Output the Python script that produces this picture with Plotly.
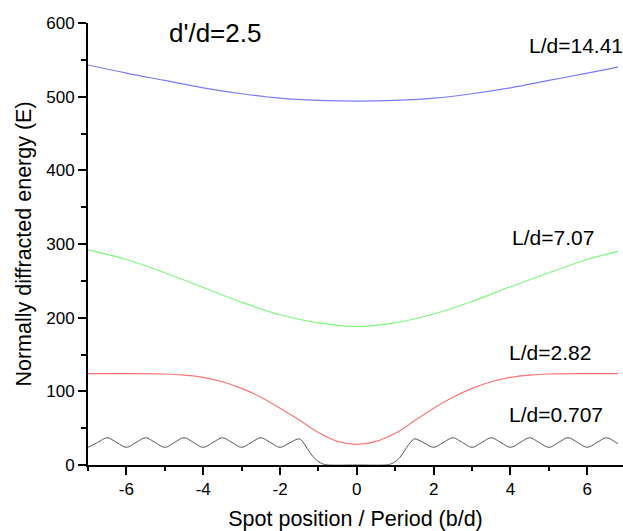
import plotly.graph_objects as go

# ---- data ----
x_smooth = [-7, -6, -5, -4, -3, -2, -1, 0, 1, 2, 3, 4, 5, 6, 6.8]
e_1441 = [543, 532, 522, 512, 504, 498, 495, 494, 495, 498, 504, 512, 522, 532, 540]
e_707 = [292, 279, 261, 241, 221, 204, 193, 188, 193, 205, 222, 242, 261, 279, 290]

x_282 = [-7, -6, -5, -4.5, -4, -3.5, -3, -2.5, -2, -1.5, -1, -0.5, 0,
         0.5, 1, 1.5, 2, 2.5, 3, 3.5, 4, 4.5, 5, 6, 6.8]
e_282 = [124, 124, 123.5, 122, 119, 113, 104, 92, 77, 61, 44, 32, 28,
         32, 43, 60, 77, 92, 104, 113, 119, 122, 123.5, 124, 124]

x_0707 = [-7, -6.75, -6.5, -6.25, -6, -5.75, -5.5, -5.25, -5, -4.75, -4.5, -4.25,
          -4, -3.75, -3.5, -3.25, -3, -2.75, -2.5, -2.25, -2, -1.75, -1.5, -1.4,
          -1.3, -1.2, -1.1, -1.0, -0.9, -0.8, 0, 0.8, 0.9, 1.0, 1.1, 1.2, 1.3,
          1.4, 1.5, 1.75, 2, 2.25, 2.5, 2.75, 3, 3.25, 3.5, 3.75, 4, 4.25, 4.5,
          4.75, 5, 5.25, 5.5, 5.75, 6, 6.25, 6.5, 6.75, 6.8]
e_0707 = [24, 30.5, 37, 30.5, 24, 30.5, 37, 30.5, 24, 30.5, 37, 30.5,
          24, 30.5, 37, 30.5, 24, 30.5, 37, 30.5, 24, 30, 35.5, 31,
          23, 15.5, 9, 4.5, 1.8, 0.3, 0, 0.3, 1.8, 4.5, 9, 16, 24,
          31, 35.5, 30, 24, 30.5, 37, 30.5, 24, 30.5, 37, 30.5, 24, 30.5, 37,
          30.5, 24, 30.5, 37, 30.5, 24, 30.5, 37, 30.5, 29]

x_tickvals = [-6, -4, -2, 0, 2, 4, 6]
x_ticktext = ["-6", "-4", "-2", "0", "2", "4", "6"]
y_tickvals = [0, 100, 200, 300, 400, 500, 600]
y_ticktext = ["0", "100", "200", "300", "400", "500", "600"]

labels = ["L/d=14.41", "L/d=7.07", "L/d=2.82", "L/d=0.707"]
label_x = [4.42, 4.0, 3.92, 3.92]
label_y = [570, 309, 153, 69]

FONT = "Arial, Liberation Sans, sans-serif"

fig = go.Figure()
fig.add_trace(go.Scatter(x=x_smooth, y=e_1441, mode="lines", line=dict(color="#7b7bff", width=1.2, shape="spline"), showlegend=False))
fig.add_trace(go.Scatter(x=x_smooth, y=e_707, mode="lines", line=dict(color="#7dfa7d", width=1.2, shape="spline"), showlegend=False))
fig.add_trace(go.Scatter(x=x_282, y=e_282, mode="lines", line=dict(color="#ff7575", width=1.2, shape="spline"), showlegend=False))
fig.add_trace(go.Scatter(x=x_0707, y=e_0707, mode="lines", line=dict(color="#555555", width=1.0, shape="spline", smoothing=1.0), showlegend=False))

for t, xx, yy in zip(labels, label_x, label_y):
    fig.add_annotation(x=xx, y=yy, text=t, showarrow=False, xanchor="left", yanchor="middle",
                       font=dict(family=FONT, size=21, color="black"))
fig.add_annotation(x=-4.94, y=586, text="d'/d=2.5", showarrow=False, xanchor="left", yanchor="middle",
                   font=dict(family=FONT, size=26, color="black"))

fig.update_layout(
    width=623, height=531,
    margin=dict(l=88, r=0, t=23, b=66),
    paper_bgcolor="white", plot_bgcolor="white",
    font=dict(family=FONT, size=17, color="black"),
    xaxis=dict(range=[-7, 6.93], tickmode="array", tickvals=x_tickvals, ticktext=x_ticktext,
               ticks="outside", ticklen=8, tickwidth=1.5, tickcolor="black",
               minor=dict(tickmode="linear", tick0=-7, dtick=1, ticks="outside", ticklen=4, tickwidth=1.5, tickcolor="black"),
               showline=True, linecolor="black", linewidth=2, showgrid=False, zeroline=False,
               title=dict(text="Spot position / Period (b/d)", font=dict(family=FONT, size=21.5), standoff=14)),
    yaxis=dict(range=[0, 600], tickmode="array", tickvals=y_tickvals, ticktext=y_ticktext,
               ticks="outside", ticklen=8, tickwidth=1.5, tickcolor="black",
               minor=dict(tickmode="linear", tick0=0, dtick=50, ticks="outside", ticklen=5, tickwidth=1.5, tickcolor="black"),
               showline=True, linecolor="black", linewidth=2, showgrid=False, zeroline=False,
               title=dict(text="Normally diffracted energy (E)", font=dict(family=FONT, size=21.5), standoff=9)),
)

fig.write_html("out.html")
